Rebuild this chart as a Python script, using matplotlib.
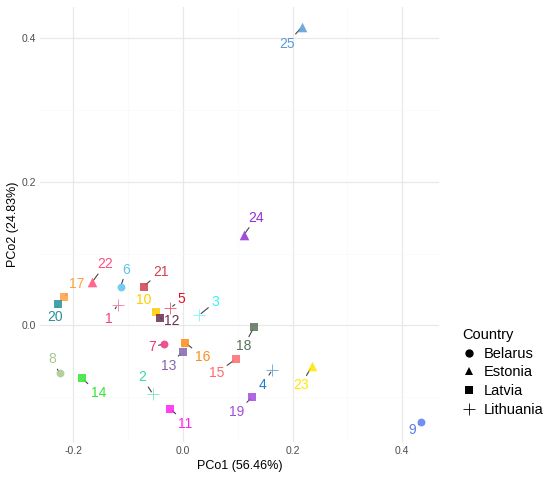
import matplotlib.pyplot as plt
from matplotlib.lines import Line2D
from matplotlib.ticker import MultipleLocator

plt.rcParams['font.family'] = ['Liberation Sans', 'DejaVu Sans']

# ---------------- data ----------------
sample_ids = list(range(1, 26))
pco1 = [-0.119, -0.055, 0.029, 0.163, -0.023, -0.114, -0.035, -0.225, 0.434, -0.050,
        -0.023, -0.042, -0.001, -0.184, 0.096, 0.004, -0.218, 0.129, 0.126, -0.228,
        -0.072, -0.166, 0.235, 0.111, 0.217]
pco2 = [0.029, -0.096, 0.014, -0.062, 0.024, 0.054, -0.026, -0.067, -0.135, 0.018,
        -0.116, 0.010, -0.037, -0.074, -0.047, -0.024, 0.039, -0.003, -0.100, 0.030,
        0.054, 0.060, -0.057, 0.126, 0.416]
country = ['Lithuania'] * 5 + ['Belarus'] * 4 + ['Latvia'] * 12 + ['Estonia'] * 4
countries = ['Belarus', 'Estonia', 'Latvia', 'Lithuania']

# ---------------- styles ----------------
colors = ['#f0407a', '#3dd8a0', '#33f5f5', '#1f7cc8', '#e8102a', '#5cc4f0', '#f0337e',
          '#a6c88c', '#5a7cf0', '#ffcc00', '#ff22ee', '#6a2e52', '#8466ac', '#33e633',
          '#ff6a6a', '#ff8c1a', '#ffa040', '#5a725a', '#a04ee0', '#2a9098', '#d0404e',
          '#ff4c7c', '#ffe600', '#9030d0', '#5a9ad8']
markers = {'Belarus': 'o', 'Estonia': '^', 'Latvia': 's', 'Lithuania': '+'}
sizes = {'Belarus': 32, 'Estonia': 48, 'Latvia': 32, 'Lithuania': 70}

# label offsets (pixels, from point to label centre; y up)
label_dx = [-9, -11, 16, -10, 11, 6, -12, -8, -9, -12, 15, 12, -14, 16, -19, 17, 13,
            -10, -15, -3, 17, 13, -11, 12, -15]
label_dy = [-14, 17, 13, -15, 9, 17, -3, 14, -8, 12, -15, -3, -14, -15, -14, -14, 13,
            -19, -15, -13, 15, 18, -19, 17, -17]

fig = plt.figure(figsize=(5.5, 4.79), dpi=100)
ax = fig.add_axes([40 / 550, 37 / 479, 399 / 550, 435 / 479])

for sid, x, y, c, col, dx, dy in zip(sample_ids, pco1, pco2, country, colors, label_dx, label_dy):
    plus = c == 'Lithuania'
    ax.scatter(x, y, marker=markers[c], s=sizes[c], color=col,
               alpha=0.7 if plus else 0.85, linewidths=0.6 if plus else 0, zorder=5)
    ax.annotate(str(sid), (x, y), xytext=(dx, dy), textcoords='offset pixels',
                ha='center', va='center', fontsize=10, color=col, zorder=4,
                arrowprops=dict(arrowstyle='-', color='#444444', lw=0.8,
                                shrinkA=0, shrinkB=2))

# limits with ggplot-like 5% expansion
xr = max(pco1) - min(pco1)
yr = max(pco2) - min(pco2)
ax.set_xlim(min(pco1) - 0.05 * xr, max(pco1) + 0.05 * xr)
ax.set_ylim(min(pco2) - 0.05 * yr, max(pco2) + 0.05 * yr)

ax.xaxis.set_major_locator(MultipleLocator(0.2))
ax.yaxis.set_major_locator(MultipleLocator(0.2))
ax.xaxis.set_minor_locator(MultipleLocator(0.1))
ax.yaxis.set_minor_locator(MultipleLocator(0.1))
ax.grid(True, which='major', color='#e8e8e8', lw=0.9)
ax.grid(True, which='minor', color='#f8f8f8', lw=0.5)
ax.set_axisbelow(True)
for s in ax.spines.values():
    s.set_visible(False)
ax.tick_params(which='both', length=0, labelsize=7.5, labelcolor='#4d4d4d', pad=3)
ax.xaxis.set_major_formatter(plt.FuncFormatter(lambda v, p: f'{v:.1f}'))
ax.yaxis.set_major_formatter(plt.FuncFormatter(lambda v, p: f'{v:.1f}'))

ax.set_xlabel('PCo1 (56.46%)', fontsize=9, labelpad=3)
ax.set_ylabel('PCo2 (24.83%)', fontsize=9, labelpad=2)

handles = [Line2D([], [], marker=markers[c], color='black', linestyle='none',
                  markersize=6 if c != 'Lithuania' else 9,
                  markeredgewidth=0.6 if c == 'Lithuania' else 0)
           for c in countries]
leg = fig.legend(handles, countries, title='Country', loc='upper left',
                 bbox_to_anchor=(456 / 550, 1 - 322 / 479), frameon=False,
                 fontsize=10.5, title_fontsize=10.5, handlelength=1.0,
                 handletextpad=0.5, labelspacing=0.33, borderaxespad=0)
leg._legend_box.align = 'left'

fig.savefig('out.png', dpi=100)
